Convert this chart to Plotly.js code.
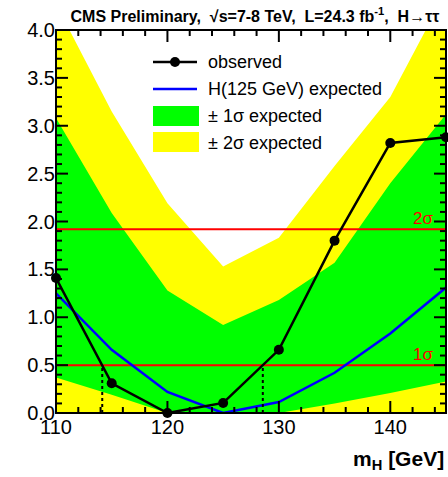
<!DOCTYPE html>
<html>
<head>
<meta charset="utf-8">
<script src="https://cdn.plot.ly/plotly-3.0.1.min.js"></script>
<style>html,body{margin:0;padding:0;background:#fff;}#chart{width:448px;height:477px;}</style>
</head>
<body>
<div id="chart"></div>
<script>
// ---- data ----
const massPoints = [110, 115, 120, 125, 130, 135, 140, 145];
const observed   = [1.41, 0.31, 0.00, 0.105, 0.66, 1.80, 2.82, 2.88];
const expected125 = [1.25, 0.66, 0.22, 0.00, 0.115, 0.42, 0.83, 1.31];
const sigma1Low  = [0.37, 0.19, 0.00, 0.00, 0.00, 0.10, 0.21, 0.33];
const sigma1High = [3.08, 2.09, 1.28, 0.92, 1.18, 1.57, 2.40, 3.12];
const sigma2Low  = [0.00, 0.00, 0.00, 0.00, 0.00, 0.00, 0.00, 0.00];
const sigma2High = [4.27, 3.15, 2.19, 1.53, 1.83, 2.58, 3.30, 4.40];
const sigmaLevels = [0.5, 1.92];
const sigmaLabels = ['1σ', '2σ'];
const crossings1s = [114.15, 128.56];
const xTickStep = 10, xMinorStep = 2;
const yTickStep = 0.5, yMinorStep = 0.1;
const yMaxValue = 4;
const legendLabels = ['observed', 'H(125 GeV) expected', '± 1σ expected', '± 2σ expected'];

const FONT = 'Arial, Liberation Sans, Helvetica, sans-serif';
const xMin = massPoints[0], xMax = massPoints[massPoints.length - 1];

function band(lo, hi, color, name) {
  return {
    x: massPoints.concat(massPoints.slice().reverse()),
    y: hi.concat(lo.slice().reverse()),
    type: 'scatter', mode: 'lines', fill: 'toself',
    fillcolor: color, line: {width: 0, color: color},
    hoverinfo: 'skip', showlegend: false, name: name
  };
}

const traces = [];
traces.push(band(sigma2Low, sigma2High, '#ffff00', '2s'));
traces.push(band(sigma1Low, sigma1High, '#00ff00', '1s'));
sigmaLevels.forEach(function (lv) {
  traces.push({x: [xMin, xMax], y: [lv, lv], type: 'scatter', mode: 'lines',
    line: {color: '#ff0000', width: 2}, showlegend: false, hoverinfo: 'skip'});
});
traces.push({x: massPoints, y: expected125, type: 'scatter', mode: 'lines',
  line: {color: '#0000ff', width: 2.5}, showlegend: false, name: legendLabels[1]});
crossings1s.forEach(function (c) {
  traces.push({x: [c, c], y: [0, sigmaLevels[0]], type: 'scatter', mode: 'lines',
    line: {color: '#000000', width: 2, dash: 'dot'}, showlegend: false, hoverinfo: 'skip'});
});
traces.push({x: massPoints, y: observed, type: 'scatter', mode: 'lines+markers',
  line: {color: '#000000', width: 2.5}, marker: {color: '#000000', size: 10},
  cliponaxis: false, showlegend: false, name: legendLabels[0]});

// pixel -> paper helpers for the hand-drawn legend
const L = 56, R = 446, T = 30, B = 413;
const px = function (x) { return (x - L) / (R - L); };
const py = function (y) { return (B - y) / (B - T); };

const shapes = [
  {type: 'line', xref: 'paper', yref: 'paper', x0: px(153), x1: px(197), y0: py(62), y1: py(62),
   line: {color: '#000', width: 2.5}},
  {type: 'circle', xref: 'paper', yref: 'paper', x0: px(170), x1: px(180), y0: py(67), y1: py(57),
   fillcolor: '#000', line: {color: '#000', width: 0}},
  {type: 'line', xref: 'paper', yref: 'paper', x0: px(153), x1: px(197), y0: py(89), y1: py(89),
   line: {color: '#0000ff', width: 2.5}},
  {type: 'rect', xref: 'paper', yref: 'paper', x0: px(153), x1: px(199), y0: py(126), y1: py(106),
   fillcolor: '#00ff00', line: {width: 0}},
  {type: 'rect', xref: 'paper', yref: 'paper', x0: px(153), x1: px(199), y0: py(152), y1: py(132),
   fillcolor: '#ffff00', line: {width: 0}},
  // frame
  {type: 'rect', xref: 'paper', yref: 'paper', x0: 0, x1: 1, y0: 0, y1: 1,
   line: {color: '#000', width: 2}, fillcolor: 'rgba(0,0,0,0)'}
];

// ROOT-style inside ticks on all four sides (major + minor), placed through the axes
const MAJ = 12, MIN = 6;
const nX = Math.round((xMax - xMin) / xMinorStep);
for (let i = 1; i < nX; i++) {
  const v = xMin + i * xMinorStep;
  const len = (Math.abs((v - xMin) / xTickStep - Math.round((v - xMin) / xTickStep)) < 1e-6) ? MAJ : MIN;
  shapes.push({type: 'line', xref: 'x', yref: 'paper', ysizemode: 'pixel', yanchor: 0,
    x0: v, x1: v, y0: 0, y1: len, line: {color: '#000', width: 2}});
  shapes.push({type: 'line', xref: 'x', yref: 'paper', ysizemode: 'pixel', yanchor: 1,
    x0: v, x1: v, y0: 0, y1: -len, line: {color: '#000', width: 2}});
}
const nY = Math.round(yMaxValue / yMinorStep);
for (let j = 1; j < nY; j++) {
  const v = j * yMinorStep;
  const len = (j % Math.round(yTickStep / yMinorStep) === 0) ? MAJ : MIN;
  shapes.push({type: 'line', xref: 'paper', yref: 'y', xsizemode: 'pixel', xanchor: 0,
    x0: 0, x1: len, y0: v, y1: v, line: {color: '#000', width: 2}});
  shapes.push({type: 'line', xref: 'paper', yref: 'y', xsizemode: 'pixel', xanchor: 1,
    x0: 0, x1: -len, y0: v, y1: v, line: {color: '#000', width: 2}});
}

const legendY = [62, 89, 116, 143];
const annotations = legendLabels.map(function (t, i) {
  return {text: t, xref: 'paper', yref: 'paper', x: px(206), y: py(legendY[i]),
    xanchor: 'left', yanchor: 'middle', showarrow: false,
    font: {family: FONT, size: 18, color: '#000'}};
});
sigmaLevels.forEach(function (lv, i) {
  annotations.push({text: sigmaLabels[i], xref: 'x', yref: 'y', x: 142.9, y: lv,
    xanchor: 'center', yanchor: 'bottom', yshift: -1, showarrow: false,
    font: {family: FONT, size: 17, color: '#ff0000'}});
});
annotations.push({text: '<b>m<sub>H</sub> [GeV]</b>', xref: 'paper', yref: 'paper',
  x: 1.0, y: py(460), xanchor: 'right', yanchor: 'middle', showarrow: false,
  font: {family: FONT, size: 21, color: '#000'}});

const layout = {
  width: 448, height: 477,
  margin: {l: L, r: 448 - R, t: T, b: 477 - B, pad: 0},
  paper_bgcolor: '#fff', plot_bgcolor: '#fff',
  showlegend: false,
  font: {family: FONT, color: '#000'},
  title: {text: '<b>CMS Preliminary,\u00a0 √s=7-8 TeV,\u00a0 L=24.3 fb<sup>-1</sup>,\u00a0 H→ττ</b>',
    x: 255 / 448, y: 1 - 16 / 477, xanchor: 'center', yanchor: 'middle',
    font: {family: FONT, size: 16, color: '#000'}},
  xaxis: {range: [xMin, xMax], tickmode: 'linear', tick0: xMin, dtick: xTickStep,
    ticks: '', showline: false, showgrid: false, zeroline: false,
    tickfont: {family: FONT, size: 20, color: '#000'}},
  yaxis: {range: [0, yMaxValue], tickmode: 'linear', tick0: 0, dtick: yTickStep, tickformat: '.1f',
    ticks: '', showline: false, showgrid: false, zeroline: false,
    tickfont: {family: FONT, size: 20, color: '#000'}},
  shapes: shapes,
  annotations: annotations
};

Plotly.newPlot('chart', traces, layout, {displayModeBar: false, staticPlot: true});
</script>
</body>
</html>
